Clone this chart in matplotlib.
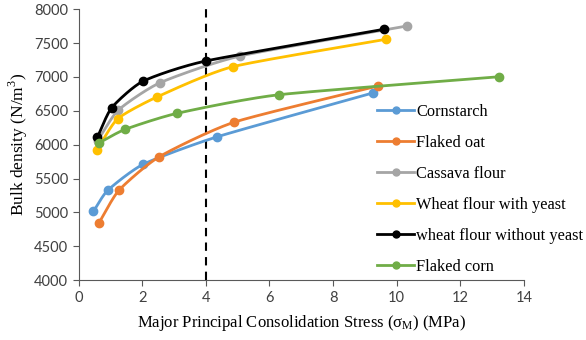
import numpy as np
import matplotlib.pyplot as plt

# data
corn_x = [0.47, 0.92, 2.04, 4.35, 9.27]
corn_y = [5016, 5327, 5712, 6115, 6766]
oat_x = [0.64, 1.27, 2.53, 4.90, 9.40]
oat_y = [4843, 5327, 5820, 6333, 6865]
cass_x = [0.60, 1.25, 2.56, 5.08, 10.34]
cass_y = [6060, 6510, 6914, 7309, 7753]
wy_x = [0.57, 1.23, 2.48, 4.85, 9.67]
wy_y = [5919, 6382, 6707, 7151, 7556]
wny_x = [0.59, 1.04, 2.02, 4.00, 9.61]
wny_y = [6106, 6544, 6935, 7235, 7704]
fc_x = [0.65, 1.46, 3.09, 6.30, 13.23]
fc_y = [6027, 6225, 6462, 6737, 7003]

labels = ['Cornstarch', 'Flaked oat', 'Cassava flour', 'Wheat flour with yeast',
          'wheat flour without yeast', 'Flaked corn']
colors = ['#5b9bd5', '#ed7d31', '#a5a5a5', '#ffc000', '#000000', '#70ad47']


def smooth(xs, ys, n=40):
    # catmull-rom style smoothing like excel's smoothed line
    x = np.array(xs, float)
    y = np.array(ys, float)
    px = np.concatenate([[2 * x[0] - x[1]], x, [2 * x[-1] - x[-2]]])
    py = np.concatenate([[2 * y[0] - y[1]], y, [2 * y[-1] - y[-2]]])
    outx, outy = [], []
    t = np.linspace(0, 1, n)
    for i in range(1, len(px) - 2):
        for arr, out in ((px, outx), (py, outy)):
            p0, p1, p2, p3 = arr[i - 1], arr[i], arr[i + 1], arr[i + 2]
            m1 = (p2 - p0) / 2 * 0.6
            m2 = (p3 - p1) / 2 * 0.6
            h00 = 2 * t**3 - 3 * t**2 + 1
            h10 = t**3 - 2 * t**2 + t
            h01 = -2 * t**3 + 3 * t**2
            h11 = t**3 - t**2
            out.extend(h00 * p1 + h10 * m1 + h01 * p2 + h11 * m2)
    return outx, outy


fig = plt.figure(figsize=(5.86, 3.4), dpi=100)
ax = fig.add_axes([0.134, 0.176, 0.760, 0.797])

series = [(corn_x, corn_y), (oat_x, oat_y), (cass_x, cass_y),
          (wy_x, wy_y), (wny_x, wny_y), (fc_x, fc_y)]
order = [0, 1, 5, 2, 3, 4]
handles = [None] * 6
for i in order:
    xs, ys = series[i]
    sx, sy = smooth(xs, ys)
    ax.plot(sx, sy, color=colors[i], lw=2, zorder=2 + i)
    ax.plot(xs, ys, 'o', color=colors[i], ms=6, zorder=2 + i)
    handles[i], = ax.plot([], [], '-o', color=colors[i], lw=2, ms=5, label=labels[i])

ax.axvline(4, color='black', ls=(0, (4, 3)), lw=1.5, zorder=1)

ax.set_xlim(0, 14)
ax.set_ylim(4000, 8000)
ax.set_xticks(range(0, 15, 2))
ax.set_yticks(range(4000, 8001, 500))
for s in ['top', 'right']:
    ax.spines[s].set_visible(False)
for s in ['left', 'bottom']:
    ax.spines[s].set_color('#595959')
ax.tick_params(direction='out', length=4, color='#595959', labelsize=10.5,
               labelcolor='#404040')
for lbl in ax.get_xticklabels() + ax.get_yticklabels():
    lbl.set_family('Lato')

ax.set_xlabel('Major Principal Consolidation Stress ($\\mathregular{\\sigma_M}$) (MPa)',
              family='Liberation Serif', fontsize=12, labelpad=6)
ax.set_ylabel('Bulk density (N/m$^\\mathregular{3}$)', family='Liberation Serif',
              fontsize=12.5, labelpad=3)

leg = ax.legend(handles=handles, loc='upper left', bbox_to_anchor=(0.655, 0.675),
                frameon=False, prop={'family': 'Liberation Serif', 'size': 11.8},
                handlelength=2.3, handletextpad=0.1, labelspacing=0.92,
                borderaxespad=0)
leg.set_zorder(20)

fig.savefig('out.png', dpi=100)
